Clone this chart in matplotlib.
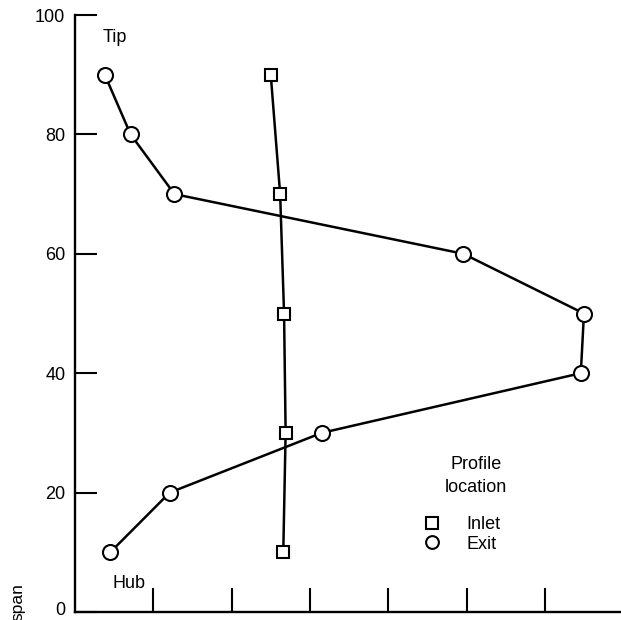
import matplotlib.pyplot as plt
from matplotlib.lines import Line2D
from matplotlib.transforms import offset_copy

plt.rcParams["font.family"] = ["Liberation Sans Narrow", "Liberation Sans", "DejaVu Sans"]

# percent span positions
span = [10, 20, 30, 40, 50, 60, 70, 80, 90]
span_inlet = [10, 30, 50, 70, 90]

# profile values (one unit per tick spacing)
exit_vals = [0.45, 1.21, 3.15, 6.46, 6.50, 4.96, 1.27, 0.71, 0.38]
inlet_vals = [2.66, 2.69, 2.67, 2.62, 2.50]

yticks = [0, 20, 40, 60, 80, 100]
xticks = [1, 2, 3, 4, 5, 6]

fig = plt.figure(figsize=(6.21, 6.20), dpi=100)
ax = fig.add_axes([75 / 621, 8 / 620, 546 / 621, 597 / 620])

ax.plot(exit_vals, span, color="black", lw=1.8, marker="o", ms=10.8,
        mfc="white", mec="black", mew=1.5, zorder=3)
ax.plot(inlet_vals, span_inlet, color="black", lw=1.8, marker="s", ms=9.2,
        mfc="white", mec="black", mew=1.5, zorder=3)

ax.set_xlim(0, 546 / 78.3)
ax.set_ylim(0, 100)

for side in ["top", "right"]:
    ax.spines[side].set_visible(False)
for side in ["left", "bottom"]:
    ax.spines[side].set_linewidth(1.7)

ax.set_yticks(yticks)
ax.set_yticklabels([""] + [str(v) for v in yticks[1:]])
ax.set_xticks(xticks)
ax.set_xticklabels([])
ax.tick_params(axis="y", direction="in", length=16, width=1.5, pad=7,
               labelsize=13)
ax.tick_params(axis="x", direction="in", length=17, width=1.5)
for lbl in ax.get_yticklabels():
    lbl.set_va("center_baseline")

# zero label sits on the baseline just below the axis corner
zero_tr = offset_copy(ax.get_yaxis_transform(), fig=fig, x=-7, y=-2.2,
                      units="points")
ax.text(0, yticks[0], str(yticks[0]), transform=zero_tr, fontsize=13,
        ha="right", va="baseline")

fig.text(103 / 621, 1 - 38 / 620, "Tip", fontsize=13, ha="left", va="center")
fig.text(113 / 621, 1 - 584 / 620, "Hub", fontsize=13, ha="left", va="center")
fig.text(18 / 621, 1 - 583 / 620, "span", rotation=90, fontsize=12.5,
         ha="center", va="top")

# legend: centred title above marker entries
fig.text(476 / 621, 1 - 476 / 620, "Profile\nlocation", fontsize=13,
         ha="center", va="center", multialignment="center", linespacing=1.4)
handles = [
    Line2D([], [], ls="none", marker="s", ms=9.2, mfc="white", mec="black",
           mew=1.5),
    Line2D([], [], ls="none", marker="o", ms=9.2, mfc="white", mec="black",
           mew=1.5),
]
ax.legend(handles, ["Inlet", "Exit"], frameon=False, fontsize=13,
          loc="upper left", bbox_to_anchor=(414 / 621, 1 - 507 / 620),
          bbox_transform=fig.transFigure, handlelength=1.0,
          handletextpad=1.4, labelspacing=0.15, borderpad=0)

fig.savefig("out.png", dpi=100)
